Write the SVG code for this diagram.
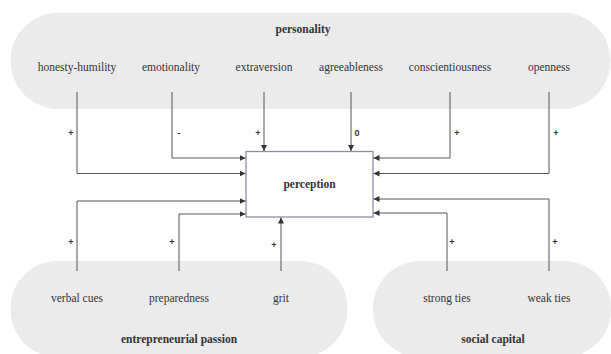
<svg xmlns="http://www.w3.org/2000/svg" width="611" height="354" viewBox="0 0 611 354">
<defs>
<marker id="ah" viewBox="0 0 6 6" refX="6" refY="3" markerWidth="6" markerHeight="6" markerUnits="userSpaceOnUse" orient="auto">
<path d="M0,0 L6,3 L0,6 Z" fill="#333"/>
</marker>
<style>
.blob{fill:#ebebeb;stroke:none}
text{font-family:'Liberation Serif','Times New Roman',Times,serif}
.lbl{font-size:11.5px;fill:#333;text-anchor:middle}
.ttl{font-size:11.5px;font-weight:bold;fill:#333;text-anchor:middle}
text.sg{font-family:'Liberation Sans',Arial,sans-serif;font-size:9px;font-weight:bold;fill:#333;text-anchor:middle}
.c{fill:none;stroke:#555;stroke-width:1;marker-end:url(#ah)}
</style>
</defs>
<rect width="611" height="354" fill="#fff"/>
<g id="personality">
<rect class="blob" x="10.5" y="12.5" width="600" height="96.5" rx="48" ry="48"/>
<text class="ttl" x="303" y="33">personality</text>
</g>
<g id="entrepreneurial-passion">
<rect class="blob" x="10.5" y="261" width="337" height="96" rx="47" ry="47"/>
<text class="ttl" x="179" y="343">entrepreneurial passion</text>
</g>
<g id="social-capital">
<rect class="blob" x="373" y="261" width="238" height="96" rx="47" ry="47"/>
<text class="ttl" x="493" y="343">social capital</text>
</g>
<g id="honesty-humility"><text class="lbl" x="77" y="71">honesty-humility</text></g>
<g id="emotionality"><text class="lbl" x="171" y="71">emotionality</text></g>
<g id="extraversion"><text class="lbl" x="264" y="71">extraversion</text></g>
<g id="agreeableness"><text class="lbl" x="351" y="71">agreeableness</text></g>
<g id="conscientiousness"><text class="lbl" x="450" y="71">conscientiousness</text></g>
<g id="openness"><text class="lbl" x="549" y="71">openness</text></g>
<g id="verbal-cues"><text class="lbl" x="77" y="302">verbal cues</text></g>
<g id="preparedness"><text class="lbl" x="179" y="302">preparedness</text></g>
<g id="grit"><text class="lbl" x="281" y="302">grit</text></g>
<g id="strong-ties"><text class="lbl" x="447" y="302">strong ties</text></g>
<g id="weak-ties"><text class="lbl" x="549" y="302">weak ties</text></g>
<g id="perception">
<rect x="246" y="151.5" width="127" height="65.5" fill="#fff" stroke="#8b8fa6" stroke-width="1.3"/>
<text class="ttl" x="309.5" y="188">perception</text>
</g>
<g id="connectors">
<path class="c" d="M77,92 V173.5 H245.5"/>
<path class="c" d="M172,92 V158 H245.5"/>
<path class="c" d="M264,92 V151"/>
<path class="c" d="M351,92 V151"/>
<path class="c" d="M450,92 V158 H373.5"/>
<path class="c" d="M549,92 V173.5 H373.5"/>
<path class="c" d="M77,271 V201 H245.5"/>
<path class="c" d="M179,271 V214 H245.5"/>
<path class="c" d="M281,271 V217.5"/>
<path class="c" d="M447,271 V213 H373.5"/>
<path class="c" d="M549,271 V199 H373.5"/>
<text class="sg" x="71" y="136">+</text>
<text class="sg" x="179" y="136">-</text>
<text class="sg" x="258" y="136">+</text>
<text class="sg" x="357" y="136">0</text>
<text class="sg" x="457" y="136">+</text>
<text class="sg" x="556" y="136">+</text>
<text class="sg" x="71" y="245">+</text>
<text class="sg" x="172" y="245">+</text>
<text class="sg" x="274" y="248">+</text>
<text class="sg" x="452" y="245">+</text>
<text class="sg" x="555" y="245">+</text>
</g>
</svg>
